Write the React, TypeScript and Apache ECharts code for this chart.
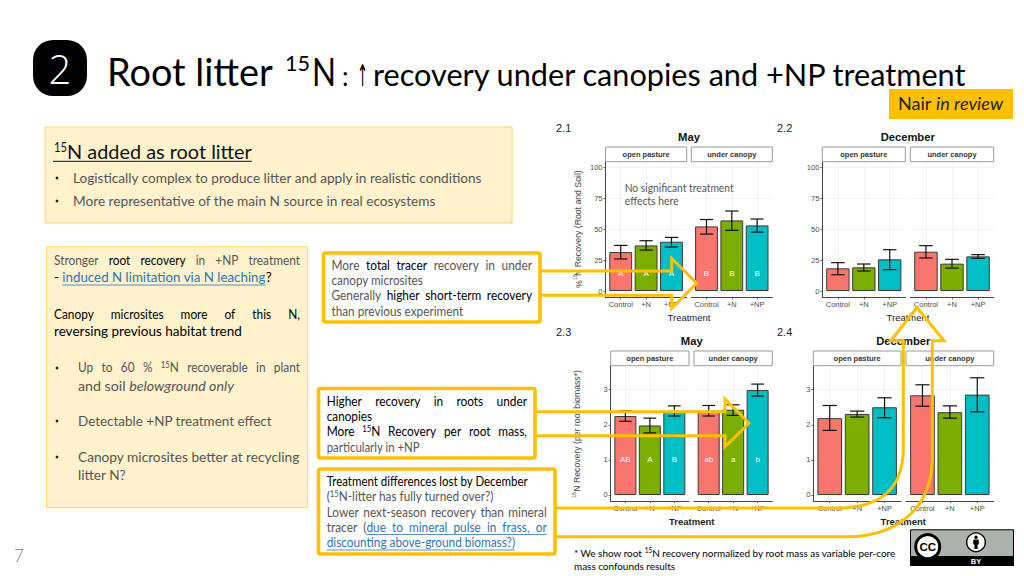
import React, { useEffect, useRef } from "react";
import * as echarts from "echarts";

// ---------- data ----------
const treatments = ["Control", "+N", "+NP"];
const barColors = ["#F8766D", "#7CAE00", "#00BFC4"];
const stripNames = ["open pasture", "under canopy"];

const totalTicks = [0, 25, 50, 75, 100];
const rootTicks = [0, 1, 2, 3];

const mayOpenTotal = [31.6, 37, 40];
const mayOpenTotalLow = [26, 33.2, 35.7];
const mayOpenTotalHigh = [37, 40.8, 43.5];
const mayCanopyTotal = [52.4, 57.3, 53.2];
const mayCanopyTotalLow = [46.2, 49.2, 47.8];
const mayCanopyTotalHigh = [58, 64.9, 58.4];

const decOpenTotal = [18.4, 19.2, 25.7];
const decOpenTotalLow = [13.2, 16.2, 17.3];
const decOpenTotalHigh = [23, 21.9, 33.5];
const decCanopyTotal = [31.9, 22.2, 28.1];
const decCanopyTotalLow = [26.8, 18.6, 26.5];
const decCanopyTotalHigh = [36.8, 25.7, 29.5];

const mayOpenRoot = [2.25, 1.98, 2.37];
const mayOpenRootLow = [2.1, 1.77, 2.25];
const mayOpenRootHigh = [2.4, 2.19, 2.54];
const mayCanopyRoot = [2.4, 2.43, 2.99];
const mayCanopyRootLow = [2.25, 2.27, 2.82];
const mayCanopyRootHigh = [2.55, 2.57, 3.16];

const decOpenRoot = [2.19, 2.31, 2.5];
const decOpenRootLow = [1.84, 2.22, 2.2];
const decOpenRootHigh = [2.55, 2.39, 2.77];
const decCanopyRoot = [2.84, 2.36, 2.86];
const decCanopyRootLow = [2.53, 2.19, 2.37];
const decCanopyRootHigh = [3.14, 2.54, 3.34];

const lettersMayOpenTotal = ["A", "A", "A"];
const lettersMayCanopyTotal = ["B", "B", "B"];
const lettersMayOpenRoot = ["AB", "A", "B"];
const lettersMayCanopyRoot = ["ab", "a", "b"];
const noLetters = ["", "", ""];

// ---------- layout ----------
const YEL = "#FFC000";
const SANS = "Liberation Sans";
const LATO = "Lato";
const SOFT = "#555555";

const row1 = { top: 161.7, bottom: 297.3, min: -5.1, max: 104.9, ticks: totalTicks, letterAt: 14 };
const row2 = { top: 365.7, bottom: 501, min: -0.171, max: 3.684, ticks: rootTicks, letterAt: 1 };

const facets = [
  { l: 605.5, r: 686.7, row: row1, m: mayOpenTotal, lo: mayOpenTotalLow, hi: mayOpenTotalHigh, let: lettersMayOpenTotal, axis: true, strip: 0 },
  { l: 691.3, r: 772.3, row: row1, m: mayCanopyTotal, lo: mayCanopyTotalLow, hi: mayCanopyTotalHigh, let: lettersMayCanopyTotal, axis: false, strip: 1 },
  { l: 822.3, r: 905.3, row: row1, m: decOpenTotal, lo: decOpenTotalLow, hi: decOpenTotalHigh, let: noLetters, axis: true, strip: 0 },
  { l: 910.3, r: 993.7, row: row1, m: decCanopyTotal, lo: decCanopyTotalLow, hi: decCanopyTotalHigh, let: noLetters, axis: false, strip: 1 },
  { l: 610.7, r: 689, row: row2, m: mayOpenRoot, lo: mayOpenRootLow, hi: mayOpenRootHigh, let: lettersMayOpenRoot, axis: true, strip: 0 },
  { l: 694, r: 772.3, row: row2, m: mayCanopyRoot, lo: mayCanopyRootLow, hi: mayCanopyRootHigh, let: lettersMayCanopyRoot, axis: false, strip: 1 },
  { l: 813.3, r: 901, row: row2, m: decOpenRoot, lo: decOpenRootLow, hi: decOpenRootHigh, let: noLetters, axis: true, strip: 0 },
  { l: 906, r: 993.7, row: row2, m: decCanopyRoot, lo: decCanopyRootLow, hi: decCanopyRootHigh, let: noLetters, axis: false, strip: 1 },
];

// ---------- text helpers ----------
const ctx = document.createElement("canvas").getContext("2d") as CanvasRenderingContext2D;
function measure(s: string, size: number, weight = 400, italic = false, family = LATO) {
  ctx.font = `${italic ? "italic " : ""}${weight} ${size}px "${family}"`;
  return ctx.measureText(s).width;
}
const STY: any = {
  n: { fill: SOFT, weight: 400 },
  b: { fill: "#000000", weight: 400 },
  l: { fill: "#2E75B6", weight: 400, u: true },
  i: { fill: SOFT, weight: 400, italic: true },
  s: { fill: SOFT, weight: 400, sup: true },
  B: { fill: "#000000", weight: 400, sup: true },
};
function txt(x: number, y: number, s: string, o: any = {}) {
  const size = o.size ?? 13;
  const family = o.family ?? LATO;
  const weight = o.weight ?? 400;
  const italic = !!o.italic;
  const scaleX = o.w ? o.w / measure(s, size, weight, italic, family) : o.k ?? 1;
  return {
    type: "text",
    x,
    y,
    scaleX,
    rotation: o.rot ?? 0,
    z: 100,
    silent: true,
    style: {
      text: s,
      x: 0,
      y: 0,
      fill: o.fill ?? "#333",
      fontFamily: family,
      fontSize: size,
      fontWeight: weight,
      fontStyle: italic ? "italic" : "normal",
      align: o.align ?? "left",
      verticalAlign: "middle",
    },
  };
}
function rule(x1: number, y1: number, x2: number, y2: number, stroke: string, lineWidth = 1) {
  return { type: "line", z: 100, silent: true, shape: { x1, y1, x2, y2 }, style: { stroke, lineWidth } };
}
// one line fitted to [x0, x1] keeping natural spaces
function fit(x0: number, x1: number, y: number, segs: [string, string][], size = 13.2) {
  const w = (s: string, k: string) => {
    const st = STY[k];
    return measure(s, st.sup ? size * 0.65 : size, st.weight, !!st.italic);
  };
  const total = segs.reduce((a, [s, k]) => a + w(s, k), 0);
  const k = (x1 - x0) / total;
  let x = x0;
  const out: any[] = [];
  for (const [s, key] of segs) {
    const st = STY[key];
    const lead = s.length - s.trimStart().length;
    const sx = x + w(s.slice(0, lead), key) * k;
    const trimmed = s.trim();
    out.push(
      txt(sx, st.sup ? y - 3 : y, trimmed, {
        size: st.sup ? size * 0.65 : size,
        weight: st.weight,
        italic: st.italic,
        fill: st.fill,
        k,
      })
    );
    if (st.u) out.push(rule(sx, y + 7.5, sx + w(trimmed, key) * k, y + 7.5, st.fill, 0.8));
    x += w(s, key) * k;
  }
  return out;
}
// justified line: words spread over [x0, x1]; "^15N" carries a superscript; "(" hugs the next word
function just(x0: number, x1: number, y: number, segs: [string, string][], size = 13.2, k = 0.9) {
  const words: { t: string; key: string }[] = [];
  segs.forEach(([s, key]) => s.split(/\s+/).filter(Boolean).forEach((t) => words.push({ t, key })));
  const ww = words.map(({ t, key }) => {
    const st = STY[key];
    if (t.startsWith("^")) {
      return (measure("15", size * 0.65, st.weight) + measure(t.slice(3), size, st.weight)) * k;
    }
    return measure(t, size, st.weight, !!st.italic) * k;
  });
  const gaps = words.filter((w, i) => i < words.length - 1 && w.t !== "(").length;
  const gap = (x1 - x0 - ww.reduce((a, b) => a + b, 0)) / gaps;
  let x = x0;
  const out: any[] = [];
  words.forEach(({ t, key }, i) => {
    const st = STY[key];
    if (t.startsWith("^")) {
      out.push(txt(x, y - 3, "15", { size: size * 0.65, weight: st.weight, fill: st.fill, k }));
      out.push(
        txt(x + measure("15", size * 0.65, st.weight) * k, y, t.slice(3), { size, weight: st.weight, fill: st.fill, k })
      );
    } else {
      out.push(txt(x, y, t, { size, weight: st.weight, italic: st.italic, fill: st.fill, k }));
    }
    if (st.u) {
      const end = i < words.length - 1 && words[i + 1].key === key ? x + ww[i] + gap : x + ww[i];
      out.push(rule(x, y + 7.5, end, y + 7.5, st.fill, 0.8));
    }
    x += ww[i] + (t === "(" ? 0 : gap);
  });
  return out;
}

echarts.graphic.registerShape(
  "curvedArrow",
  echarts.graphic.extendPath(
    "M550 508 H837 C880 508 903.3 490 903.3 448 V340.7 H890.7 L917 307.5 L944 340.7 H932.3 V458 C932 510 895 536.7 847 536.7 H550",
    {}
  )
);

function buildOption() {
  const grid: any[] = [];
  const xAxis: any[] = [];
  const yAxis: any[] = [];
  const series: any[] = [];
  const stripEls: any[] = [];
  const AX = "#444";
  const SPLIT = { show: true, lineStyle: { color: "#f1f1f1", width: 0.8 } };

  facets.forEach((f, i) => {
    const { row } = f;
    const unit = (f.r - f.l) / 3.2;
    grid.push({ left: f.l, top: row.top, width: f.r - f.l, height: row.bottom - row.top, containLabel: false });
    xAxis.push({
      gridIndex: i,
      type: "value",
      min: 0.4,
      max: 3.6,
      axisLine: { show: true, onZero: false, lineStyle: { color: AX, width: 1 } },
      axisTick: { show: true, length: 2, customValues: [1, 2, 3], lineStyle: { color: AX, width: 0.8 } },
      axisLabel: {
        show: true,
        customValues: [1, 2, 3],
        margin: 3,
        fontSize: 7.5,
        fontFamily: SANS,
        color: "#4d4d4d",
        formatter: (v: number) => treatments[Math.round(v) - 1],
      },
      splitLine: SPLIT,
    });
    yAxis.push({
      gridIndex: i,
      type: "value",
      min: row.min,
      max: row.max,
      axisLine: { show: f.axis, onZero: false, lineStyle: { color: AX, width: 1 } },
      axisTick: { show: f.axis, length: 2, customValues: row.ticks, lineStyle: { color: AX, width: 0.8 } },
      axisLabel: {
        show: f.axis,
        customValues: row.ticks,
        margin: 3,
        fontSize: 7.5,
        fontFamily: SANS,
        color: "#4d4d4d",
      },
      splitLine: SPLIT,
    });
    series.push({
      type: "bar",
      xAxisIndex: i,
      yAxisIndex: i,
      barWidth: unit * 0.9,
      silent: true,
      data: f.m.map((v, j) => ({
        value: [j + 1, v],
        itemStyle: { color: barColors[j], borderColor: "#3a3a3a", borderWidth: 1 },
      })),
    });
    series.push({
      type: "custom",
      xAxisIndex: i,
      yAxisIndex: i,
      silent: true,
      clip: false,
      z: 5,
      encode: { x: 0, y: [1, 2] },
      data: f.m.map((_, j) => [j + 1, f.lo[j], f.hi[j]]),
      renderItem: (params: any, api: any) => {
        const x = api.value(0);
        const lo = api.coord([x, api.value(1)]);
        const hi = api.coord([x, api.value(2)]);
        const half = unit * 0.26;
        const ln = (x1: number, y1: number, x2: number, y2: number) => ({
          type: "line",
          shape: { x1, y1, x2, y2 },
          style: { stroke: "#111", lineWidth: 1.2 },
        });
        const label = f.let[params.dataIndex];
        const at = api.coord([x, row.letterAt]);
        return {
          type: "group",
          children: [
            ln(lo[0], lo[1], hi[0], hi[1]),
            ln(lo[0] - half, lo[1], lo[0] + half, lo[1]),
            ln(hi[0] - half, hi[1], hi[0] + half, hi[1]),
            {
              type: "text",
              style: {
                text: label,
                x: at[0],
                y: at[1],
                fill: "#fff",
                fontSize: 8,
                fontFamily: SANS,
                align: "center",
                verticalAlign: "middle",
              },
            },
          ],
        };
      },
    });
    stripEls.push({
      type: "rect",
      z: 100,
      silent: true,
      shape: { x: f.l, y: row.top - 14.7, width: f.r - f.l, height: 14.7 },
      style: { fill: "#fff", stroke: "#9a9a9a", lineWidth: 1 },
    });
    stripEls.push(
      txt((f.l + f.r) / 2, row.top - 7.2, stripNames[f.strip], {
        size: 7.5,
        weight: 700,
        family: SANS,
        fill: "#333",
        align: "center",
      })
    );
  });

  const arrowStyle = { fill: "none", stroke: YEL, lineWidth: 3 };
  const arrows: any[] = [
    {
      type: "polyline",
      z: 100,
      silent: true,
      shape: { points: [[540, 271], [671.7, 271], [671.7, 258.3], [696.7, 283.3], [671.7, 308.3], [671.7, 295.3], [540, 295.3]] },
      style: arrowStyle,
    },
    {
      type: "polyline",
      z: 100,
      silent: true,
      shape: { points: [[535, 411.7], [725, 411.7], [725, 399], [749, 423.3], [725, 446.7], [725, 435.7], [535, 435.7]] },
      style: arrowStyle,
    },
    { type: "curvedArrow", z: 100, silent: true, style: arrowStyle },
  ];

  const box = (x: number, y: number, w: number, h: number, fill: string, stroke: string, lineWidth: number, r = 0) => ({
    type: "rect",
    z: 100,
    silent: true,
    shape: { x, y, width: w, height: h, r },
    style: { fill, stroke, lineWidth },
  });
  const bullet = (x: number, y: number) => ({
    type: "circle",
    z: 100,
    silent: true,
    shape: { cx: x, cy: y, r: 1.4 },
    style: { fill: "#222" },
  });

  const panelLabels = [
    txt(556, 127.7, "2.1", { size: 11, family: SANS, fill: "#222" }),
    txt(777, 127.7, "2.2", { size: 11, family: SANS, fill: "#222" }),
    txt(556, 331.7, "2.3", { size: 11, family: SANS, fill: "#222" }),
    txt(777, 331.7, "2.4", { size: 11, family: SANS, fill: "#222" }),
    txt(689, 136.7, "May", { size: 11.3, weight: 700, family: SANS, fill: "#111", align: "center" }),
    txt(907.7, 136.7, "December", { size: 11.2, weight: 700, family: SANS, fill: "#111", align: "center" }),
    txt(691.7, 340.7, "May", { size: 11.3, weight: 700, family: SANS, fill: "#111", align: "center" }),
    txt(903.3, 340.7, "December", { size: 11.2, weight: 700, family: SANS, fill: "#111", align: "center" }),
    txt(689, 317, "Treatment", { size: 9.5, family: SANS, fill: "#222", align: "center" }),
    txt(908, 317, "Treatment", { size: 9.5, family: SANS, fill: "#222", align: "center" }),
    txt(691.7, 521.3, "Treatment", { size: 9.5, weight: 700, family: SANS, fill: "#222", align: "center" }),
    txt(903.3, 521.3, "Treatment", { size: 9.5, weight: 700, family: SANS, fill: "#222", align: "center" }),
    txt(579, 288, "%", { size: 8.7, family: SANS, fill: "#444", rot: Math.PI / 2 }),
    txt(575, 280, "15", { size: 5.5, family: SANS, fill: "#444", rot: Math.PI / 2 }),
    txt(578, 276, "N Recovery (Root and Soil)", { size: 8.7, family: SANS, fill: "#444", rot: Math.PI / 2 }),
    txt(574, 498, "15", { size: 5.5, family: SANS, fill: "#444", rot: Math.PI / 2 }),
    txt(577.3, 491.7, "N Recovery (per root biomass*)", { size: 8.7, family: SANS, fill: "#444", rot: Math.PI / 2 }),
    txt(624.7, 187, "No significant treatment", { size: 11, w: 109, fill: SOFT }),
    txt(624.7, 200.3, "effects here", { size: 11, w: 54, fill: SOFT }),
  ];

  const slide: any[] = [
    // header
    box(33, 40, 54, 56, "#000", "#000", 0, 20),
    txt(60, 68, "2", { size: 40, weight: 300, fill: "#fff", align: "center", family: "Open Sans" }),
    txt(107, 71, "Root litter", { size: 39, w: 166, fill: "#000" }),
    txt(285, 63, "15", { size: 22, w: 25, fill: "#000" }),
    txt(312, 71, "N", { size: 39, w: 24, fill: "#000" }),
    txt(342, 76, ":", { size: 26, fill: "#000" }),
    txt(357, 76, "↑", { size: 30, w: 11, fill: "#000", family: "DejaVu Sans" }),
    txt(373, 74, "recovery under canopies and +NP treatment", { size: 31, w: 595, fill: "#000" }),
    box(889, 89, 124, 30, YEL, YEL, 0),
    ...fit(898, 1003, 103.5, [["Nair ", "b"], ["in review", "i"]], 17).map((e: any) => {
      e.style.fill = "#222";
      e.style.fontWeight = 400;
      return e;
    }),
    // top-left box
    box(45, 127, 467, 96, "#FFF2CC", "#FFD966", 1),
    txt(54, 147, "15", { size: 12.5, w: 13, fill: "#111" }),
    txt(67, 152, "N added as root litter", { size: 19.5, w: 185, fill: "#111" }),
    rule(53, 161.3, 252, 161.3, "#111", 1),
    bullet(57, 178),
    txt(73, 178, "Logistically complex to produce litter and apply in realistic conditions", { size: 13.3, w: 410, fill: SOFT }),
    bullet(57, 201),
    txt(73, 201, "More representative of the main N source in real ecosystems", { size: 13.3, w: 363, fill: SOFT }),
    // left box
    box(46.7, 246.7, 261, 261, "#FFF2CC", "#FFD966", 1),
    ...just(54, 300, 260, [["Stronger", "n"], ["root recovery", "b"], ["in +NP treatment", "n"]]),
    ...fit(54, 271.7, 277.5, [["- ", "b"], ["induced N limitation via N leaching", "l"], ["?", "b"]]),
    ...just(54, 300, 314, [["Canopy microsites more of this N,", "b"]]),
    ...fit(54, 241.7, 331, [["reversing previous habitat trend", "b"]]),
    bullet(57, 368),
    ...just(78, 300, 367.7, [["Up to 60 % ^15N recoverable in plant", "n"]]),
    ...fit(78, 234, 385.5, [["and soil ", "n"], ["belowground only", "i"]]),
    bullet(57, 421),
    ...fit(78, 272, 421, [["Detectable +NP treatment effect", "n"]]),
    bullet(57, 457),
    ...fit(78, 300, 457, [["Canopy microsites better at recycling", "n"]]),
    ...fit(78, 126, 475, [["litter N?", "n"]]),
    // arrows run under the white boxes' edges and over the charts
    ...stripEls,
    ...panelLabels,
    ...arrows,
    // yellow boxes
    box(323.5, 253, 216.5, 69, "#fff", YEL, 3.6, 2),
    ...just(331.5, 532, 265.3, [["More", "n"], ["total tracer", "b"], ["recovery in under", "n"]]),
    ...fit(331.5, 423, 280.3, [["canopy microsites", "n"]]),
    ...just(331.5, 532, 295.7, [["Generally", "n"], ["higher short-term recovery", "b"]]),
    ...fit(331.5, 463, 311, [["than previous experiment", "n"]]),
    box(318.5, 388.5, 216.5, 69.5, "#fff", YEL, 3.6, 2),
    ...just(326.7, 527, 401, [["Higher recovery in roots under", "b"]]),
    ...fit(326.7, 372, 416.3, [["canopies", "b"]]),
    ...just(326.7, 527, 431.7, [["More ^15N Recovery per root mass,", "b"]]),
    ...fit(326.7, 420, 447, [["particularly in +NP", "n"]]),
    box(318.5, 469, 236.5, 85, "#fff", YEL, 3.6, 2),
    ...fit(326.7, 528, 481, [["Treatment differences lost by December", "b"]]),
    ...fit(326.7, 494, 496.5, [["(", "n"], ["15", "s"], ["N-litter has fully turned over?)", "n"]]),
    ...just(326.7, 546.7, 512, [["Lower next-season recovery than mineral", "n"]]),
    ...just(326.7, 546.7, 527, [["tracer (", "n"], ["due to mineral pulse in frass, or", "l"]]),
    ...fit(326.7, 515, 542.5, [["discounting above-ground biomass?)", "l"]]),
    // footer
    txt(14, 555, "7", { size: 17, weight: 300, fill: "#777" }),
    ...fit(574, 896, 553, [["* We show root ", "b"], ["15", "B"], ["N recovery normalized by root mass as variable per-core", "b"]], 10.3),
    ...fit(574, 675, 566, [["mass confounds results", "b"]], 10.3),
    // CC BY badge
    box(910.5, 529.8, 103, 35.5, "#AAB2AB", "#000", 1),
    { type: "rect", z: 100, silent: true, shape: { x: 910, y: 556, width: 104, height: 10 }, style: { fill: "#000" } },
    { type: "circle", z: 100, silent: true, shape: { cx: 927.7, cy: 546.7, r: 12 }, style: { fill: "#fff", stroke: "#000", lineWidth: 3 } },
    txt(927.7, 547, "CC", { size: 11.5, weight: 700, family: SANS, fill: "#000", align: "center" }),
    { type: "circle", z: 100, silent: true, shape: { cx: 976, cy: 542.3, r: 9.3 }, style: { fill: "#fff", stroke: "#000", lineWidth: 1.4 } },
    { type: "circle", z: 100, silent: true, shape: { cx: 976, cy: 537.2, r: 1.7 }, style: { fill: "#000" } },
    { type: "rect", z: 100, silent: true, shape: { x: 973.2, y: 539.6, width: 5.6, height: 5, r: 1 }, style: { fill: "#000" } },
    { type: "rect", z: 100, silent: true, shape: { x: 974.4, y: 543, width: 3.2, height: 6 }, style: { fill: "#000" } },
    txt(976, 561, "BY", { size: 7.5, weight: 700, family: SANS, fill: "#fff", align: "center" }),
  ];

  return {
    animation: false,
    backgroundColor: "#fff",
    grid,
    xAxis,
    yAxis,
    series,
    graphic: { elements: slide },
  };
}

export default function App() {
  const ref = useRef<HTMLDivElement>(null);
  useEffect(() => {
    const chart = echarts.init(ref.current as HTMLDivElement, undefined, { renderer: "svg" });
    chart.setOption(buildOption() as any);
    return () => chart.dispose();
  }, []);
  return <div ref={ref} style={{ position: "absolute", left: 0, top: 0, width: 1024, height: 576 }} />;
}
